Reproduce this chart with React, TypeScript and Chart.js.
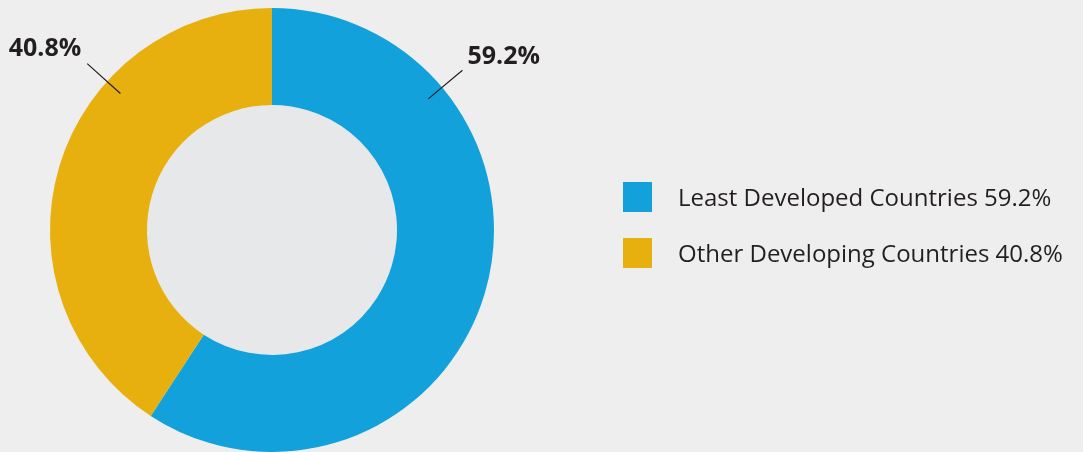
import React, { useEffect, useRef } from "react";
import { Chart, registerables } from "chart.js";
Chart.register(...registerables);

const categories = ["Least Developed Countries", "Other Developing Countries"];
const shares = [59.2, 40.8];
const colors = ["#12a1db", "#e8b00e"];

const FONT = '"Open Sans", "Noto Sans", sans-serif';

export default function App() {
  const ref = useRef<HTMLCanvasElement>(null);
  useEffect(() => {
    document.body.style.margin = "0";
    const canvas = ref.current!;
    const fmt = (v: number) => v.toFixed(1) + "%";
    // callout anchor angles (degrees clockwise from top), per slice
    const calloutAngles = [50, 312];
    const decor = {
      id: "decor",
      beforeDatasetsDraw(chart: any) {
        const arc = chart.getDatasetMeta(0).data[0] as any;
        const c = chart.ctx;
        c.save();
        c.fillStyle = "#e7e8e9";
        c.beginPath();
        c.arc(arc.x, arc.y, arc.innerRadius, 0, Math.PI * 2);
        c.fill();
        c.restore();
      },
      afterDatasetsDraw(chart: any) {
        const meta = chart.getDatasetMeta(0);
        const c = chart.ctx;
        const vals = chart.data.datasets[0].data as number[];
        c.save();
        meta.data.forEach((arc: any, i: number) => {
          const a = (calloutAngles[i] * Math.PI) / 180;
          const r1 = arc.outerRadius * 0.919;
          const r2 = arc.outerRadius * 1.12;
          const x1 = arc.x + r1 * Math.sin(a);
          const y1 = arc.y - r1 * Math.cos(a);
          const x2 = arc.x + r2 * Math.sin(a);
          const y2 = arc.y - r2 * Math.cos(a);
          c.strokeStyle = "#231f20";
          c.lineWidth = 1.2;
          c.beginPath();
          c.moveTo(x1, y1);
          c.lineTo(x2, y2);
          c.stroke();
          c.fillStyle = "#231f20";
          c.font = `bold 25px ${FONT}`;
          c.textBaseline = "alphabetic";
          const right = Math.sin(a) > 0;
          c.textAlign = right ? "left" : "right";
          c.fillText(fmt(vals[i]), right ? x2 + 5 : x2 - 6, y2 - (right ? 6 : 8));
        });
        // legend
        const labels = chart.data.labels as string[];
        labels.forEach((lab, i) => {
          const y = 182 + i * 56;
          c.fillStyle = colors[i];
          c.fillRect(623, y, 29, 30);
          c.fillStyle = "#231f20";
          c.font = `24px ${FONT}`;
          c.textAlign = "left";
          c.textBaseline = "alphabetic";
          c.fillText(`${lab} ${fmt(vals[i])}`, 678, y + 24);
        });
        c.restore();
      },
    };
    const chart = new Chart(canvas, {
      type: "doughnut",
      data: {
        labels: categories,
        datasets: [
          {
            data: shares,
            backgroundColor: colors,
            borderWidth: 0,
            hoverOffset: 0,
          },
        ],
      },
      options: {
        responsive: true,
        maintainAspectRatio: false,
        animation: false,
        cutout: "56.3%",
        layout: { padding: { left: 50, right: 589, top: 8, bottom: 0 } },
        plugins: {
          legend: { display: false },
          tooltip: { enabled: false },
        },
        events: [],
      },
      plugins: [decor],
    });
    return () => chart.destroy();
  }, []);
  return (
    <div style={{ width: 1083, height: 452, background: "#eeeeee", position: "relative" }}>
      <canvas ref={ref} />
    </div>
  );
}
